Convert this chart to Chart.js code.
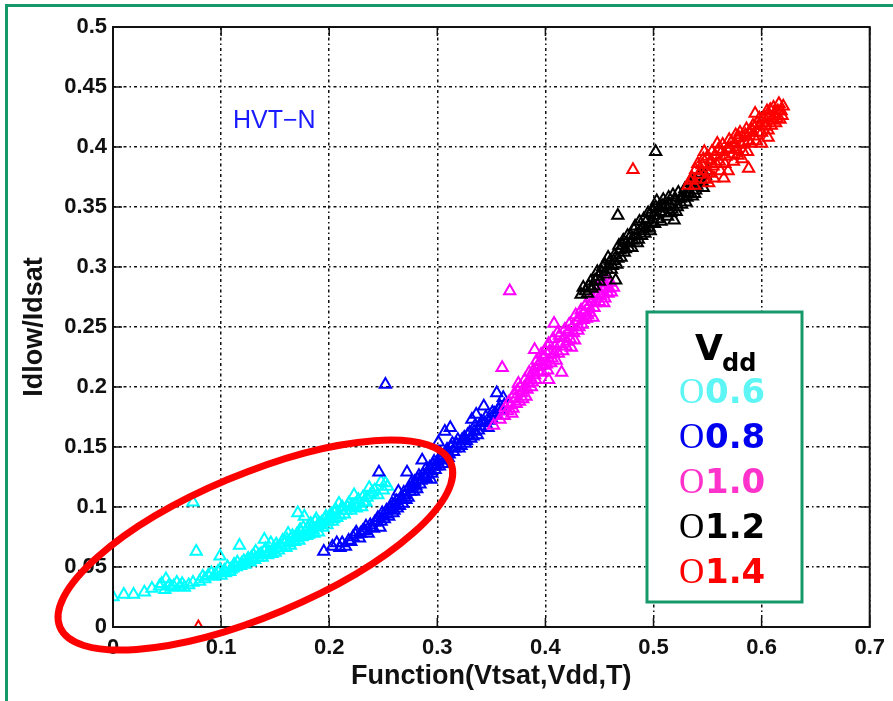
<!DOCTYPE html>
<html>
<head>
<meta charset="utf-8">
<title>Idlow/Idsat vs Function(Vtsat,Vdd,T)</title>
<script src="https://cdn.jsdelivr.net/npm/chart.js@4.4.1/dist/chart.umd.min.js"></script>
<style>
  body { margin: 0; background: #fff; }
  #wrap { width: 893px; height: 701px; }
</style>
</head>
<body>
<div id="wrap"><canvas id="myChart" width="893" height="701"></canvas></div>
<script>
// data: [Function(Vtsat,Vdd,T), Idlow/Idsat]
const vdd06 = [
  [0.000,0.025],[0.010,0.027],[0.019,0.027],[0.029,0.029],[0.036,0.032],[0.043,0.034],[0.049,0.040],
  [0.048,0.031],[0.052,0.035],[0.056,0.034],[0.059,0.037],[0.062,0.034],[0.066,0.033],[0.074,0.037],
  [0.077,0.063],[0.074,0.104],[0.080,0.038],[0.085,0.040],[0.088,0.043],[0.091,0.045],[0.095,0.044],
  [0.099,0.059],[0.099,0.048],[0.103,0.047],[0.106,0.050],[0.109,0.048],[0.112,0.052],[0.115,0.054],
  [0.117,0.068],[0.118,0.051],[0.121,0.055],[0.125,0.057],[0.127,0.054],[0.130,0.060],[0.132,0.063],
  [0.134,0.058],[0.137,0.061],[0.140,0.073],[0.140,0.063],[0.143,0.060],[0.146,0.070],[0.148,0.065],
  [0.150,0.062],[0.152,0.066],[0.155,0.068],[0.157,0.072],[0.160,0.066],[0.162,0.078],[0.163,0.070],
  [0.165,0.074],[0.168,0.071],[0.171,0.095],[0.170,0.077],[0.173,0.081],[0.175,0.075],[0.177,0.092],
  [0.178,0.079],[0.180,0.083],[0.181,0.077],[0.183,0.086],[0.185,0.081],[0.187,0.088],[0.189,0.084],
  [0.190,0.079],[0.193,0.087],[0.196,0.090],[0.198,0.085],[0.200,0.092],[0.203,0.088],[0.205,0.095],
  [0.207,0.091],[0.209,0.103],[0.211,0.097],[0.214,0.094],[0.217,0.100],[0.220,0.097],[0.223,0.110],
  [0.224,0.102],[0.227,0.106],[0.230,0.100],[0.232,0.104],[0.235,0.108],[0.237,0.116],[0.240,0.112],
  [0.245,0.110],[0.248,0.121],[0.252,0.120],[0.254,0.117],
  [0.100,0.043],[0.104,0.045],[0.108,0.046],[0.111,0.049],[0.114,0.050],[0.119,0.053],[0.122,0.052],
  [0.124,0.055],[0.128,0.058],[0.131,0.056],[0.135,0.060],[0.138,0.058],[0.141,0.065],[0.144,0.063],
  [0.147,0.061],[0.151,0.069],[0.153,0.064],[0.156,0.066],[0.158,0.070],[0.161,0.073],[0.164,0.068],
  [0.166,0.076],[0.169,0.074],[0.172,0.072],[0.174,0.079],[0.176,0.083],[0.179,0.076],[0.182,0.080],
  [0.184,0.084],[0.186,0.078],[0.188,0.090],[0.191,0.086],[0.194,0.083],[0.197,0.092],[0.199,0.088],
  [0.202,0.094],[0.204,0.090],[0.206,0.098],[0.210,0.093],[0.212,0.100],[0.215,0.097],[0.218,0.103],
  [0.221,0.101],[0.225,0.099],[0.228,0.103],[0.231,0.108],[0.234,0.104],[0.238,0.110],[0.242,0.114],
  [0.250,0.114],[0.070,0.035],[0.064,0.036],[0.054,0.033],[0.045,0.036],[0.083,0.042],[0.093,0.042],
  [0.097,0.046]
];
const vdd08 = [
  [0.195,0.063],[0.203,0.067],[0.207,0.070],[0.210,0.066],[0.215,0.067],[0.218,0.072],[0.222,0.075],
  [0.225,0.079],[0.228,0.074],[0.231,0.080],[0.234,0.084],[0.236,0.078],[0.239,0.083],[0.242,0.087],
  [0.244,0.088],[0.246,0.129],[0.247,0.083],[0.249,0.095],[0.251,0.090],[0.252,0.202],[0.254,0.094],
  [0.256,0.098],[0.258,0.103],[0.260,0.097],[0.262,0.105],[0.264,0.113],[0.265,0.101],[0.267,0.108],
  [0.269,0.112],[0.271,0.106],[0.272,0.129],[0.274,0.116],[0.276,0.120],[0.278,0.113],[0.280,0.118],
  [0.282,0.123],[0.284,0.119],[0.286,0.139],[0.287,0.127],[0.289,0.131],[0.290,0.124],[0.292,0.130],
  [0.294,0.123],[0.296,0.135],[0.298,0.131],[0.300,0.138],[0.301,0.154],[0.302,0.134],[0.304,0.143],
  [0.306,0.139],[0.307,0.163],[0.308,0.145],[0.310,0.141],[0.312,0.166],[0.313,0.150],[0.315,0.146],
  [0.318,0.152],[0.320,0.149],[0.323,0.156],[0.326,0.153],[0.328,0.160],[0.332,0.173],[0.331,0.157],
  [0.334,0.163],[0.336,0.177],[0.337,0.160],[0.340,0.167],[0.343,0.184],[0.344,0.170],[0.347,0.166],
  [0.350,0.174],[0.353,0.178],[0.355,0.195],[0.357,0.181],[0.361,0.191],[0.362,0.185],
  [0.212,0.070],[0.220,0.071],[0.224,0.077],[0.229,0.078],[0.233,0.080],[0.238,0.085],[0.241,0.082],
  [0.245,0.091],[0.248,0.088],[0.250,0.093],[0.253,0.097],[0.255,0.092],[0.257,0.100],[0.259,0.095],
  [0.261,0.102],[0.263,0.099],[0.266,0.106],[0.268,0.103],[0.270,0.110],[0.273,0.108],[0.275,0.113],
  [0.277,0.117],[0.279,0.121],[0.281,0.115],[0.283,0.126],[0.285,0.122],[0.288,0.125],[0.291,0.127],
  [0.293,0.133],[0.295,0.128],[0.297,0.138],[0.299,0.134],[0.303,0.140],[0.305,0.136],[0.309,0.148],
  [0.311,0.144],[0.314,0.153],[0.316,0.149],[0.319,0.156],[0.322,0.151],[0.325,0.158],[0.327,0.155],
  [0.330,0.162],[0.333,0.159],[0.335,0.168],[0.338,0.164],[0.341,0.171],[0.345,0.175],[0.348,0.172],
  [0.351,0.179],[0.354,0.176],[0.358,0.184],[0.360,0.180]
];
const vdd10 = [
  [0.352,0.168],[0.358,0.173],[0.360,0.216],[0.362,0.176],[0.365,0.180],[0.367,0.280],[0.368,0.185],
  [0.370,0.182],[0.372,0.190],[0.375,0.203],[0.376,0.188],[0.378,0.195],[0.380,0.199],[0.382,0.192],
  [0.384,0.203],[0.386,0.208],[0.387,0.200],[0.389,0.214],[0.390,0.231],[0.391,0.206],[0.393,0.217],
  [0.395,0.221],[0.397,0.212],[0.399,0.225],[0.401,0.219],[0.403,0.206],[0.404,0.230],[0.406,0.224],
  [0.408,0.253],[0.409,0.234],[0.411,0.245],[0.412,0.228],[0.414,0.236],[0.415,0.212],[0.417,0.241],
  [0.419,0.234],[0.421,0.246],[0.423,0.240],[0.425,0.250],[0.427,0.239],[0.429,0.255],[0.430,0.247],
  [0.432,0.258],[0.434,0.252],[0.436,0.262],[0.438,0.257],[0.440,0.267],[0.441,0.262],[0.443,0.271],
  [0.445,0.266],[0.447,0.276],[0.449,0.278],[0.450,0.271],[0.452,0.290],[0.454,0.270],[0.456,0.284],
  [0.458,0.278],[0.460,0.287],[0.463,0.283],
  [0.363,0.183],[0.366,0.187],[0.369,0.178],[0.371,0.194],[0.373,0.186],[0.374,0.197],[0.377,0.200],
  [0.379,0.190],[0.381,0.206],[0.383,0.198],[0.385,0.212],[0.388,0.204],[0.390,0.210],[0.392,0.222],
  [0.394,0.213],[0.396,0.227],[0.398,0.218],[0.400,0.230],[0.402,0.214],[0.403,0.236],[0.405,0.220],
  [0.407,0.240],[0.408,0.228],[0.410,0.222],[0.413,0.243],[0.416,0.230],[0.418,0.248],[0.420,0.238],
  [0.422,0.252],[0.424,0.233],[0.426,0.245],[0.428,0.260],[0.431,0.250],[0.433,0.264],[0.435,0.256],
  [0.437,0.268],[0.439,0.260],[0.442,0.274],[0.444,0.258],[0.446,0.270],[0.448,0.282],[0.451,0.276],
  [0.453,0.280],[0.455,0.274],[0.457,0.289],[0.459,0.282],[0.461,0.279]
];
const vdd12 = [
  [0.433,0.277],[0.437,0.280],[0.440,0.284],[0.443,0.282],[0.446,0.289],[0.449,0.292],[0.452,0.296],
  [0.455,0.302],[0.457,0.298],[0.460,0.305],[0.462,0.301],[0.465,0.289],[0.464,0.310],[0.467,0.343],
  [0.467,0.307],[0.469,0.314],[0.471,0.318],[0.473,0.312],[0.475,0.320],[0.477,0.316],[0.479,0.326],
  [0.481,0.322],[0.482,0.331],[0.484,0.327],[0.486,0.323],[0.488,0.330],[0.490,0.334],[0.492,0.328],
  [0.494,0.339],[0.496,0.333],[0.498,0.337],[0.500,0.343],[0.502,0.350],[0.502,0.396],[0.504,0.340],
  [0.506,0.346],[0.508,0.351],[0.510,0.345],[0.513,0.342],[0.515,0.352],[0.517,0.348],[0.519,0.339],
  [0.520,0.355],[0.522,0.350],[0.525,0.357],[0.528,0.359],[0.530,0.354],[0.532,0.362],[0.535,0.367],
  [0.536,0.359],[0.538,0.361],[0.540,0.368],[0.542,0.375],[0.545,0.371],[0.548,0.376],
  [0.435,0.283],[0.439,0.278],[0.442,0.288],[0.445,0.284],[0.448,0.296],[0.450,0.288],[0.453,0.300],
  [0.456,0.294],[0.458,0.308],[0.461,0.298],[0.463,0.305],[0.466,0.302],[0.468,0.318],[0.470,0.308],
  [0.472,0.322],[0.474,0.315],[0.476,0.326],[0.478,0.320],[0.480,0.316],[0.483,0.334],[0.485,0.320],
  [0.487,0.338],[0.489,0.326],[0.491,0.340],[0.493,0.332],[0.495,0.345],[0.497,0.330],[0.499,0.348],
  [0.501,0.336],[0.503,0.355],[0.505,0.349],[0.507,0.338],[0.509,0.356],[0.511,0.350],[0.514,0.358],
  [0.516,0.345],[0.518,0.360],[0.521,0.346],[0.523,0.362],[0.526,0.352],[0.529,0.365],[0.531,0.358],
  [0.533,0.370],[0.537,0.372],[0.539,0.364],[0.543,0.378],[0.546,0.366],[0.550,0.380]
];
const vdd14 = [
  [0.079,0.000],[0.481,0.381],[0.532,0.368],[0.536,0.374],[0.539,0.381],[0.542,0.377],[0.545,0.385],
  [0.547,0.396],[0.549,0.380],[0.551,0.370],[0.553,0.389],[0.555,0.384],[0.557,0.393],[0.559,0.403],
  [0.561,0.388],[0.563,0.396],[0.565,0.374],[0.567,0.392],[0.570,0.406],[0.571,0.399],[0.573,0.394],
  [0.575,0.403],[0.577,0.398],[0.579,0.408],[0.581,0.402],[0.583,0.396],[0.585,0.410],[0.588,0.382],
  [0.588,0.405],[0.590,0.403],[0.591,0.414],[0.593,0.409],[0.594,0.428],[0.596,0.420],[0.597,0.412],
  [0.599,0.418],[0.600,0.403],[0.601,0.423],[0.602,0.425],[0.604,0.417],[0.606,0.414],[0.607,0.426],
  [0.608,0.431],[0.610,0.422],[0.612,0.428],[0.614,0.424],[0.616,0.436],[0.617,0.423],[0.618,0.430],
  [0.534,0.372],[0.538,0.368],[0.541,0.386],[0.544,0.380],[0.546,0.390],[0.548,0.373],[0.550,0.392],
  [0.552,0.378],[0.554,0.396],[0.556,0.374],[0.558,0.386],[0.560,0.398],[0.562,0.380],[0.564,0.402],
  [0.566,0.386],[0.568,0.398],[0.569,0.380],[0.572,0.404],[0.574,0.388],[0.576,0.410],[0.578,0.393],
  [0.580,0.412],[0.582,0.390],[0.584,0.404],[0.586,0.415],[0.587,0.396],[0.589,0.412],[0.592,0.418],
  [0.595,0.405],[0.598,0.424],[0.600,0.412],[0.603,0.420],[0.605,0.430],[0.606,0.408],[0.609,0.418],
  [0.611,0.433],[0.613,0.420],[0.615,0.430],[0.619,0.426],[0.620,0.434]
];

const vddLabels = ["0.6", "0.8", "1.0", "1.2", "1.4"];
const xTicks = [0, 0.1, 0.2, 0.3, 0.4, 0.5, 0.6, 0.7];
const xTickLabels = ["0", "0.1", "0.2", "0.3", "0.4", "0.5", "0.6", "0.7"];
const yTicks = [0, 0.05, 0.1, 0.15, 0.2, 0.25, 0.3, 0.35, 0.4, 0.45, 0.5];
const yTickLabels = ["0", "0.05", "0.1", "0.15", "0.2", "0.25", "0.3", "0.35", "0.4", "0.45", "0.5"];

const markColors = ["#00ffff", "#0000ff", "#ff00ff", "#000000", "#ff0000"];
const legendColors = ["#5ef5f5", "#0000f0", "#ff33cc", "#000000", "#ff0000"];
const frameGreen = "#16996a";

const toPoints = (arr) => arr.map((p) => ({ x: p[0], y: p[1] }));

// red ring drawn round the low Vdd points (centre in data units)
const ring = { cx: 0.1317, cy: 0.0683, rx: 212, ry: 71, angle: -22.8 };

const decorations = {
  id: "decorations",
  beforeDraw(chart) {
    const ctx = chart.ctx;
    ctx.save();
    ctx.fillStyle = "#fff";
    ctx.fillRect(0, 0, chart.width, chart.height);
    ctx.restore();
  },
  afterDraw(chart) {
    const ctx = chart.ctx;
    const { left, right, top, bottom } = chart.chartArea;
    const xs = chart.scales.x;
    const ys = chart.scales.y;
    ctx.save();

    // axes box and inward ticks
    ctx.strokeStyle = "#111";
    ctx.lineWidth = 2;
    ctx.strokeRect(left, top, right - left, bottom - top);
    ctx.lineWidth = 1.5;
    ctx.beginPath();
    xTicks.forEach((v) => {
      const px = xs.getPixelForValue(v);
      ctx.moveTo(px, bottom); ctx.lineTo(px, bottom - 9);
      ctx.moveTo(px, top); ctx.lineTo(px, top + 9);
    });
    yTicks.forEach((v) => {
      const py = ys.getPixelForValue(v);
      ctx.moveTo(left, py); ctx.lineTo(left + 9, py);
      ctx.moveTo(right, py); ctx.lineTo(right - 9, py);
    });
    ctx.stroke();

    // red ellipse
    ctx.beginPath();
    ctx.ellipse(xs.getPixelForValue(ring.cx), ys.getPixelForValue(ring.cy),
      ring.rx, ring.ry, ring.angle * Math.PI / 180, 0, Math.PI * 2);
    ctx.strokeStyle = "#ff0000";
    ctx.lineWidth = 7;
    ctx.stroke();

    // device label
    ctx.fillStyle = "#1a1aff";
    ctx.font = "25px 'Liberation Sans', Arial, sans-serif";
    ctx.textBaseline = "alphabetic";
    ctx.textAlign = "left";
    ctx.fillText("HVT\u2212N", 233, 128);

    // Vdd legend box
    ctx.fillStyle = "#fff";
    ctx.fillRect(647, 312, 155, 290);
    ctx.strokeStyle = frameGreen;
    ctx.lineWidth = 3;
    ctx.strokeRect(647, 312, 155, 290);
    ctx.fillStyle = "#000";
    ctx.font = "bold 36px 'DejaVu Sans', sans-serif";
    ctx.fillText("V", 695, 360);
    ctx.font = "bold 24px 'DejaVu Sans', sans-serif";
    ctx.fillText("dd", 722, 371);
    vddLabels.forEach((lab, i) => {
      const base = 403 + i * 45;
      ctx.fillStyle = legendColors[i];
      ctx.font = "35px 'Liberation Serif', 'Times New Roman', serif";
      ctx.fillText("O", 679, base);
      ctx.font = "bold 34px 'DejaVu Sans', sans-serif";
      ctx.fillText(lab, 705, base);
    });

    // outer green frame (cut off at right and bottom)
    ctx.strokeStyle = frameGreen;
    ctx.lineWidth = 3;
    ctx.beginPath();
    ctx.moveTo(6.5, chart.height + 5);
    ctx.lineTo(6.5, 5.5);
    ctx.lineTo(chart.width + 5, 5.5);
    ctx.stroke();

    ctx.restore();
  },
};

const tickFont = { family: "'Liberation Sans', Arial, sans-serif", size: 22, weight: "bold" };
const titleFont = { family: "'Liberation Sans', Arial, sans-serif", size: 27, weight: "bold", lineHeight: 1.2 };

const datasets = [vdd06, vdd08, vdd10, vdd12, vdd14].map((series, i) => ({
  label: "Vdd " + vddLabels[i],
  data: toPoints(series),
  pointStyle: "triangle",
  pointRadius: 6.5,
  pointBorderWidth: 2,
  borderColor: markColors[i],
  backgroundColor: "rgba(0,0,0,0)",
  showLine: false,
  order: 5 - i,
}));

const config = {
  type: "scatter",
  data: { datasets: datasets },
  options: {
    responsive: false,
    animation: false,
    events: [],
    layout: { padding: { left: 0, right: 19, top: 27, bottom: 0 } },
    plugins: { legend: { display: false }, tooltip: { enabled: false } },
    scales: {
      x: {
        type: "linear",
        min: 0,
        max: 0.7,
        afterBuildTicks: (scale) => { scale.ticks = xTicks.map((v) => ({ value: v })); },
        afterFit: (scale) => { scale.height = 74; },
        ticks: {
          color: "#111",
          font: tickFont,
          padding: 8,
          maxRotation: 0,
          callback: (value, index) => xTickLabels[index],
        },
        grid: { color: "#111", lineWidth: 1.5, drawTicks: false },
        border: { display: false, dash: [3, 3, 1.5, 3] },
        title: {
          display: true,
          text: "Function(Vtsat,Vdd,T)",
          color: "#111",
          font: titleFont,
          padding: { top: 0, bottom: 8 },
        },
      },
      y: {
        type: "linear",
        min: 0,
        max: 0.5,
        afterBuildTicks: (scale) => { scale.ticks = yTicks.map((v) => ({ value: v })); },
        afterFit: (scale) => { scale.width = 113; },
        ticks: {
          color: "#111",
          font: tickFont,
          padding: 6,
          callback: (value, index) => yTickLabels[index],
        },
        grid: { color: "#111", lineWidth: 1.5, drawTicks: false },
        border: { display: false, dash: [3, 3, 1.5, 3] },
        title: {
          display: true,
          text: "Idlow/Idsat",
          color: "#111",
          font: titleFont,
          padding: { top: 18, bottom: 0 },
        },
      },
    },
  },
  plugins: [decorations],
};

const myChart = new Chart(document.getElementById("myChart"), config);
</script>
</body>
</html>
